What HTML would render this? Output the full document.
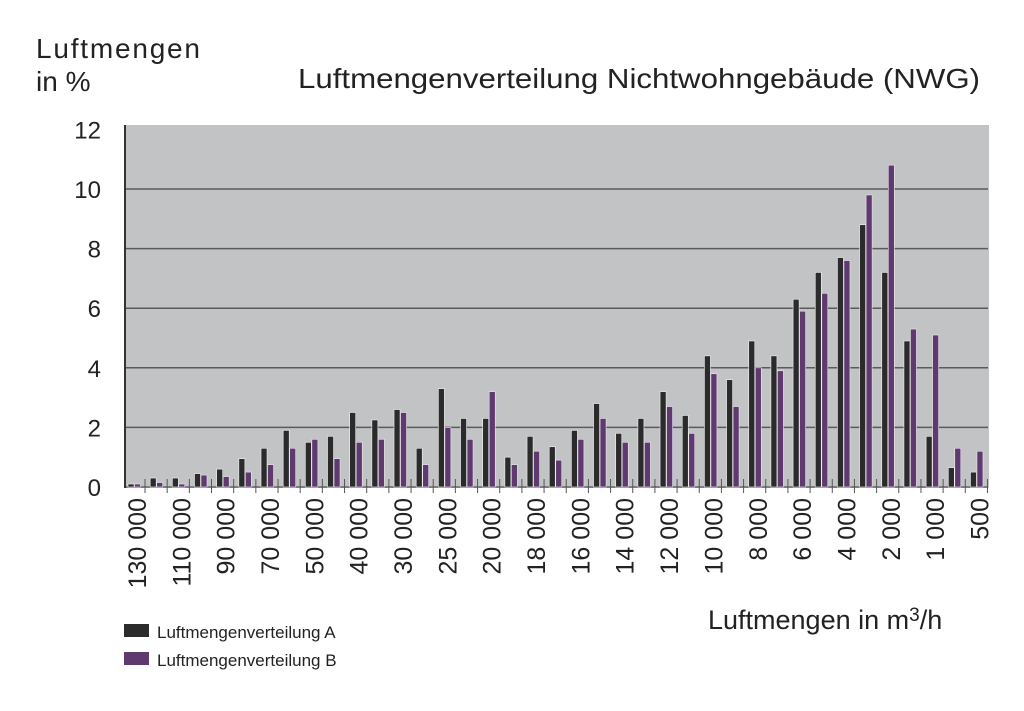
<!DOCTYPE html>
<html><head><meta charset="utf-8"><style>
body{margin:0;background:#fff;}
svg{display:block;font-family:"Liberation Sans",sans-serif;}
</style></head><body>
<svg id="chart" width="1024" height="711" viewBox="0 0 1024 711">
<text x="36" y="58" font-size="28" fill="#222" textLength="164">Luftmengen</text>
<text x="36" y="91" font-size="28" fill="#222">in %</text>
<text x="298" y="88" font-size="28" fill="#222" textLength="682" lengthAdjust="spacingAndGlyphs">Luftmengenverteilung Nichtwohngebäude (NWG)</text>
<rect x="125" y="125" width="864" height="363" fill="#c2c3c5"/>
<g id="grid"></g>
<g id="bars"></g>
<line x1="125" y1="125" x2="125" y2="488" stroke="#333" stroke-width="2"/>
<g id="xlabels"></g>
<text x="708" y="629" font-size="27" fill="#222">Luftmengen in m<tspan dy="-8" font-size="19">3</tspan><tspan dy="8">/h</tspan></text>
<rect x="124" y="624" width="25" height="13" fill="#2b2b2b"/>
<text x="157" y="638" font-size="17" fill="#222">Luftmengenverteilung A</text>
<rect x="124" y="652" width="25" height="13" fill="#5e3a6e"/>
<text x="157" y="666" font-size="17" fill="#222">Luftmengenverteilung B</text>
</svg>
<script>
const seriesA=[0.1,0.3,0.3,0.45,0.6,0.95,1.3,1.9,1.5,1.7,2.5,2.25,2.6,1.3,3.3,2.3,2.3,1.0,1.7,1.35,1.9,2.8,1.8,2.3,3.2,2.4,4.4,3.6,4.9,4.4,6.3,7.2,7.7,8.8,7.2,4.9,1.7,0.65,0.5];
const seriesB=[0.1,0.15,0.1,0.4,0.35,0.5,0.75,1.3,1.6,0.95,1.5,1.6,2.5,0.75,2.0,1.6,3.2,0.75,1.2,0.9,1.6,2.3,1.5,1.5,2.7,1.8,3.8,2.7,4.0,3.9,5.9,6.5,7.6,9.8,10.8,5.3,5.1,1.3,1.2];
const categoryLabels=["130 000","","110 000","","90 000","","70 000","","50 000","","40 000","","30 000","","25 000","","20 000","","18 000","","16 000","","14 000","","12 000","","10 000","","8 000","","6 000","","4 000","","2 000","","1 000","","500"];
const yTicks=[0,2,4,6,8,10,12];
const NS="http://www.w3.org/2000/svg";
const y0=487,yUnit=29.8;
const yScale=v=>y0-v*yUnit;
const x0=134,step=22.17;
const xScale=i=>x0+i*step;
const grid=document.getElementById('grid'),bars=document.getElementById('bars'),xl=document.getElementById('xlabels');
function mk(tag,attrs,parent){const e=document.createElementNS(NS,tag);for(const k in attrs)e.setAttribute(k,attrs[k]);parent.appendChild(e);return e;}
yTicks.forEach(t=>{
  if(t>0&&t<12){const l=mk('line',{x1:125,x2:988,y1:yScale(t),y2:yScale(t),stroke:'#5a5a5a','stroke-width':1.5},grid);
  
  }
  const tx=mk('text',{x:101,y:yScale(t)+9,'font-size':24,'text-anchor':'end',fill:'#222'},grid);
  tx.textContent=t;
  
  
});
const bl=mk('line',{x1:125,x2:988,y1:y0,y2:y0,stroke:'#666','stroke-width':1.5},grid);


seriesA.forEach((a,i)=>{
  const cx=xScale(i);
  const ra=mk('rect',{x:cx-6,y:yScale(a),width:6,height:y0-yScale(a),fill:'#2b2b2b',stroke:'#f2f2f2','stroke-width':0.6},bars);
  
  
  const b=seriesB[i];
  const rb=mk('rect',{x:cx+0.5,y:yScale(b),width:6,height:y0-yScale(b),fill:'#5e3a6e',stroke:'#efe6f2','stroke-width':0.6},bars);
  
  
  const tk=mk('line',{x1:cx+11,x2:cx+11,y1:y0-8,y2:y0+6,stroke:'#555','stroke-width':1},bars);
  
  
  if(categoryLabels[i]){
    const tx=mk('text',{x:0,y:0,'font-size':25,'text-anchor':'end',fill:'#222',transform:`translate(${cx+12},498) rotate(-90)`},xl);
    tx.textContent=categoryLabels[i];
    
    
  }
});
</script>
</body></html>
